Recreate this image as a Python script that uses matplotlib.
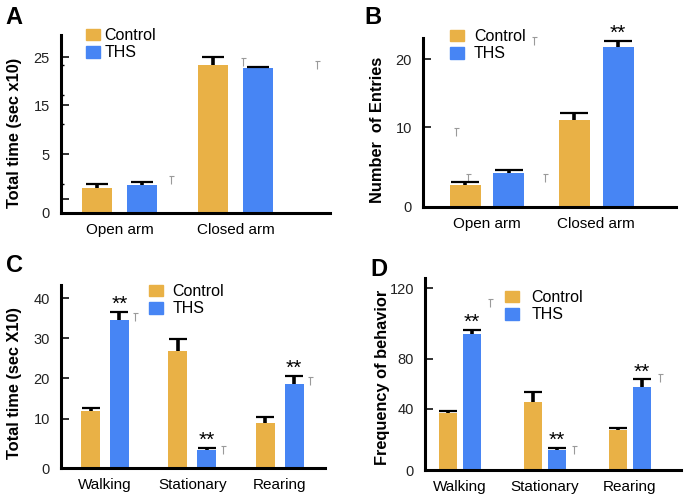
import numpy as np
import matplotlib
matplotlib.use("Agg")
import matplotlib.pyplot as plt
from matplotlib.path import Path

plt.rcParams['font.family'] = ['Liberation Sans', 'DejaVu Sans']

W, H = 686, 497
GOLD = '#E9B146'
BLUE = '#4785F4'

# ---- data ----
# A: total time in arms (sec x10)
arms = ['Open arm', 'Closed arm']
a_ctrl = [2.1, 23.3]
a_ctrl_err = [0.4, 1.7]
a_ths = [2.4, 22.7]
a_ths_err = [0.25, 0.2]

# B: number of entries
b_ctrl = [2.7, 11.1]
b_ctrl_err = [0.45, 0.95]
b_ths = [4.3, 21.85]
b_ths_err = [0.3, 0.85]
b_sig = [False, True]

# C: total time per behaviour (sec x10)
behav = ['Walking', 'Stationary', 'Rearing']
c_ctrl = [12.0, 26.8, 9.1]
c_ctrl_err = [0.7, 2.95, 1.3]
c_ths = [34.6, 3.65, 18.5]
c_ths_err = [1.9, 0.45, 2.1]
c_sig = [True, True, True]

# D: frequency of behaviour
d_ctrl = [37.2, 45.4, 26.2]
d_ctrl_err = [1.7, 8.0, 1.5]
d_ths = [94.0, 13.1, 57.8]
d_ths_err = [2.4, 1.5, 5.9]
d_sig = [True, True, True]

# stray grey caps left in the original figure
a_ghost_x = [0.44, 1.06, 1.70]
a_ghost_y = [2.8, 24.0, 23.3]
b_ghost_x = [-0.28, -0.17, 0.43, 0.53]
b_ghost_y = [9.4, 3.6, 22.6, 3.65]
c_ghost_x = [0.34, 1.35, 2.35]
c_ghost_y = [35.4, 3.7, 19.2]
d_ghost_x = [0.35, 1.34, 2.36]
d_ghost_y = [111.5, 13.1, 64.6]


def make_scale(vals, hts):
    # the original axes are not evenly spaced: map tick values to their heights
    v = np.array(vals, float)
    h = np.array(hts, float)
    s0 = (h[1] - h[0]) / (v[1] - v[0])
    s1 = (h[-1] - h[-2]) / (v[-1] - v[-2])
    v = np.concatenate([[v[0] - 1000], v, [v[-1] + 1000]])
    h = np.concatenate([[h[0] - 1000 * s0], h, [h[-1] + 1000 * s1]])
    return (lambda x: np.interp(x, v, h)), (lambda y: np.interp(y, h, v))


def px_axes(l, t, r, b):
    return fig.add_axes([l / W, 1 - b / H, (r - l) / W, (b - t) / H])


tee = Path([(-0.6, 1), (0.6, 1), (0, 1), (0, -1)],
           [Path.MOVETO, Path.LINETO, Path.MOVETO, Path.LINETO])


def panel(ax, cats, ctrl, ctrl_err, ths, ths_err, off, width, cap, xlim,
          ylim, scale, ticks, ticklabels, gx, gy, sig=None):
    ax.set_yscale('function', functions=make_scale(*scale))
    x = np.arange(len(cats))
    for xs, vals, err, col in [(x - off, ctrl, ctrl_err, GOLD),
                               (x + off, ths, ths_err, BLUE)]:
        vals = np.array(vals)
        err = np.array(err)
        ax.bar(xs, vals, width, color=col, zorder=2)
        ax.vlines(xs, vals, vals + err, color='black', lw=2.6, zorder=3)
        ax.plot(xs, vals + err, ls='none', marker='_', ms=cap, mew=1.6,
                color='black', zorder=3)
    if sig is not None:
        for xi, s, v, e in zip(x + off, sig, ths, ths_err):
            if s:
                ax.annotate('**', (xi, v + e), xytext=(0, -1.5),
                            textcoords='offset points', ha='center',
                            va='bottom', fontsize=15)
    ax.plot(gx, gy, ls='none', marker=tee, ms=6, mew=0.8, color='#9a9a9a',
            clip_on=False)
    ax.set_xlim(*xlim)
    ax.set_ylim(*ylim)
    ax.set_xticks(x, cats)
    ax.set_yticks(ticks, ticklabels)
    for s in ['top', 'right']:
        ax.spines[s].set_visible(False)
    for s in ['left', 'bottom']:
        ax.spines[s].set_linewidth(2.2)
    ax.tick_params(axis='y', direction='in', length=6, width=1.3,
                   labelsize=10.5, pad=8, colors='#222222')
    ax.tick_params(axis='x', length=0, labelsize=11, pad=7)
    ax.patch.set_visible(False)


def legend(ax, x, y, pad):
    h = [plt.Rectangle((0, 0), 1, 1, color=GOLD),
         plt.Rectangle((0, 0), 1, 1, color=BLUE)]
    ax.legend(h, ['Control', 'THS'], loc='upper left',
              bbox_to_anchor=(x / W, 1 - y / H), bbox_transform=fig.transFigure,
              frameon=False, fontsize=11.5, handlelength=0.85, handleheight=0.75,
              handletextpad=pad, labelspacing=0.15, borderpad=0, borderaxespad=0)


fig = plt.figure(figsize=(W / 100, H / 100), dpi=100)

axA = px_axes(61, 35, 330, 213)
panel(axA, arms, a_ctrl, a_ctrl_err, a_ths, a_ths_err, 0.194, 0.258, 16,
      (-0.503, 1.811), (0, 29.6), ([0, 5, 15, 25], [0, 59, 108, 156]),
      [0, 1.19, 5, 15, 25], ['0', '', '5', '15', '25'], a_ghost_x, a_ghost_y)
axA.set_yticks([2.46, 11.1, 17.1, 23.3], minor=True)
axA.tick_params(axis='y', which='minor', direction='in', length=2, width=1)
legend(axA, 86, 28, 0.3)

axB = px_axes(423, 38, 676, 207)
panel(axB, arms, b_ctrl, b_ctrl_err, b_ths, b_ths_err, 0.2, 0.284, 20,
      (-0.586, 1.73), (0, 23.1), ([0, 10, 20], [0, 79.4, 147.4]),
      [0, 10, 20], ['0', '10', '20'], b_ghost_x, b_ghost_y, b_sig)
legend(axB, 450, 29, 0.65)

axC = px_axes(61, 285, 325, 468)
panel(axC, behav, c_ctrl, c_ctrl_err, c_ths, c_ths_err, 0.166, 0.218, 13,
      (-0.504, 2.52), (0, 43.3),
      ([0, 10, 20, 30, 40], [0, 49.3, 90, 130, 170]),
      [0, 10, 20, 30, 40], ['0', '10', '20', '30', '40'],
      c_ghost_x, c_ghost_y, c_sig)
legend(axC, 149, 284, 0.6)

axD = px_axes(425, 278, 681, 470)
panel(axD, behav, d_ctrl, d_ctrl_err, d_ths, d_ths_err, 0.141, 0.212, 13,
      (-0.412, 2.603), (0, 125.7),
      ([0, 40, 80, 120], [0, 61, 111, 181.7]),
      [0, 40, 80, 120], ['0', '40', '80', '120'],
      d_ghost_x, d_ghost_y, d_sig)
legend(axD, 505, 290, 0.8)

# y labels and panel letters
ylabels = [('Total time (sec x10)', 15, 133), ('Number  of Entries', 378, 130),
           ('Total time (sec X10)', 15, 383), ('Frequency of behavior', 382, 377)]
for txt, x, y in ylabels:
    fig.text(x / W, 1 - y / H, txt, rotation=90, ha='center', va='center',
             fontsize=11.8, fontweight='bold')

letters = [('A', 5, 6), ('B', 364, 6), ('C', 6, 254), ('D', 370, 258)]
for txt, x, y in letters:
    fig.text(x / W, 1 - y / H, txt, ha='left', va='top', fontsize=17,
             fontweight='bold')

fig.savefig('out.png', dpi=100)
